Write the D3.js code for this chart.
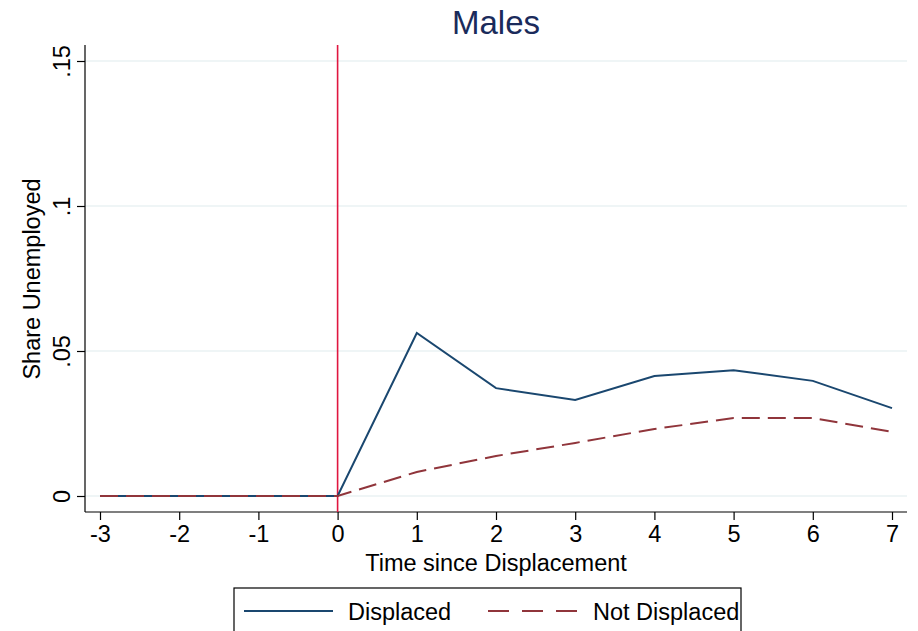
<!DOCTYPE html>
<html><head><meta charset="utf-8">
<script src="https://cdn.jsdelivr.net/npm/d3@7"></script>
<style>body{margin:0;background:#fff}svg{display:block}text{font-family:"Liberation Sans",Arial,Helvetica,sans-serif}</style>
</head><body>
<script>
const years = [-3,-2,-1,0,1,2,3,4,5,6,7];
const displaced = [0,0,0,0,0.0562,0.0372,0.0331,0.0414,0.0434,0.0397,0.0303];
const notDisplaced = [0,0,0,0,0.0083,0.0138,0.0183,0.0231,0.0269,0.0269,0.0221];
const yTicks = [0,0.05,0.1,0.15];
const yTickLabels = ["0",".05",".1",".15"];
const title = "Males";
const xTitle = "Time since Displacement";
const yTitle = "Share Unemployed";
const seriesNames = ["Displaced","Not Displaced"];

(function(){
const W=918,H=631;
const svg=d3.select("body").append("svg").attr("width",W).attr("height",H);
svg.append("rect").attr("width",W).attr("height",H).attr("fill","#fff");
const x=d3.scaleLinear().domain([-3,7]).range([100,892]);
const y=d3.scaleLinear().domain([0,0.15]).range([496,61]);
const pL=85,pR=907,pT=45,pB=512;
const fs=23.5;

// gridlines
svg.append("g").selectAll("line").data(yTicks).join("line")
 .attr("x1",pL).attr("x2",pR).attr("y1",d=>y(d)).attr("y2",d=>y(d))
 .attr("stroke","#eaf2f3").attr("stroke-width",1.5);

// axes
const yAxis=svg.append("g").attr("transform",`translate(${pL},0)`)
 .call(d3.axisLeft(y).tickValues(yTicks).tickFormat((d,i)=>yTickLabels[i]).tickSize(8).tickPadding(0));
yAxis.select(".domain").attr("d",`M0,${pT}V${pB}`).attr("stroke","#000").attr("stroke-width",1.2);
yAxis.selectAll(".tick line").attr("stroke","#000").attr("stroke-width",1.2);
yAxis.selectAll(".tick text").attr("font-size",fs).attr("fill","#000")
 .attr("x",0).attr("y",0).attr("dy","0")
 .attr("transform","translate(-15,0) rotate(-90)").attr("text-anchor","middle");

const xAxis=svg.append("g").attr("transform",`translate(0,${pB})`)
 .call(d3.axisBottom(x).tickValues(years).tickFormat(d=>String(d)).tickSize(8).tickPadding(5));
xAxis.select(".domain").attr("d",`M${pL},0H${pR}`).attr("stroke","#000").attr("stroke-width",1.2);
xAxis.selectAll(".tick line").attr("stroke","#000").attr("stroke-width",1.2);
xAxis.selectAll(".tick text").attr("font-size",fs).attr("fill","#000");

// vertical line at 0
svg.append("line").attr("x1",x(0)).attr("x2",x(0)).attr("y1",pT).attr("y2",pB)
 .attr("stroke","#e0163f").attr("stroke-width",1.6);

const line=d3.line().x((d,i)=>x(years[i])).y(d=>y(d));
svg.append("path").datum(displaced).attr("d",line).attr("fill","none")
 .attr("stroke","#1a476f").attr("stroke-width",2);
svg.append("path").datum(notDisplaced).attr("d",line).attr("fill","none")
 .attr("stroke","#90353b").attr("stroke-width",2).attr("stroke-dasharray","18,8");

// titles
svg.append("text").attr("x",496).attr("y",34).attr("text-anchor","middle")
 .attr("font-size",33).attr("fill","#1a2b5b").text(title);
svg.append("text").attr("x",496).attr("y",571).attr("text-anchor","middle")
 .attr("font-size",fs).attr("fill","#000").text(xTitle);
svg.append("text").attr("transform","translate(40,279) rotate(-90)").attr("text-anchor","middle")
 .attr("font-size",fs).attr("fill","#000").text(yTitle);

// legend
svg.append("rect").attr("x",234).attr("y",588).attr("width",507).attr("height",60)
 .attr("fill","#fff").attr("stroke","#000").attr("stroke-width",1.2);
svg.append("line").attr("x1",244).attr("x2",333).attr("y1",611).attr("y2",611)
 .attr("stroke","#1a476f").attr("stroke-width",2);
svg.append("text").attr("x",348).attr("y",620).attr("font-size",fs).text(seriesNames[0]);
svg.append("line").attr("x1",488).attr("x2",577).attr("y1",611).attr("y2",611)
 .attr("stroke","#90353b").attr("stroke-width",2).attr("stroke-dasharray","21,13");
svg.append("text").attr("x",593).attr("y",620).attr("font-size",fs).text(seriesNames[1]);
})();
</script>
</body></html>
